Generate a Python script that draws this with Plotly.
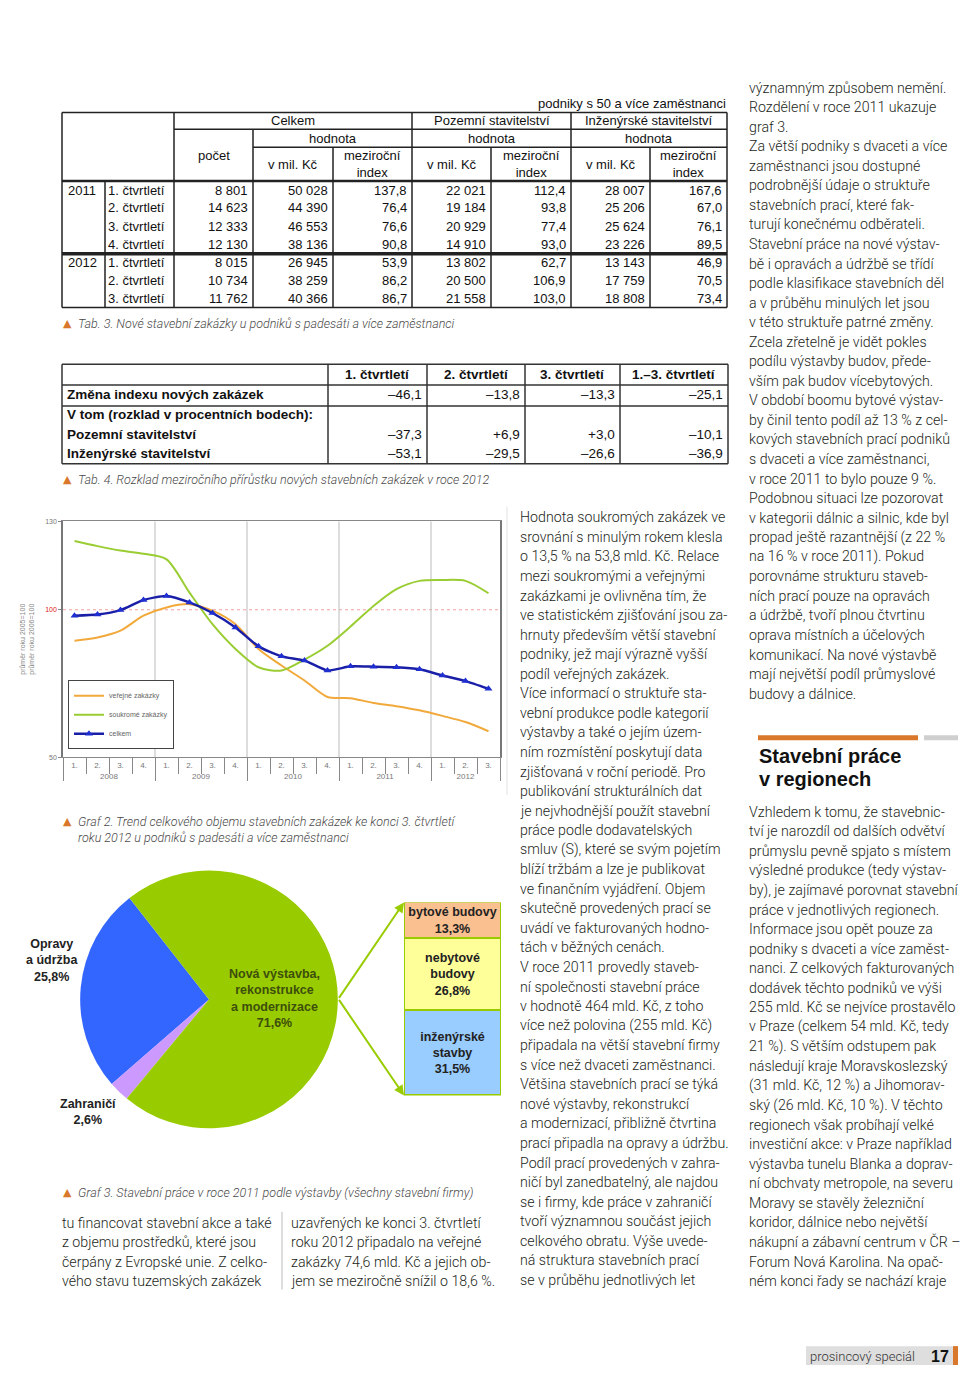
import plotly.graph_objects as go

W, H = 960, 1374
def X(px): return px / W
def Y(py): return 1 - py / H

BODY = "Roboto, Liberation Sans, sans-serif"
ARIAL = "Liberation Sans, Arial, sans-serif"
ORANGE = "#d9772b"
TXT = "#231f20"

# ---------------- data ----------------
# Tab. 3
t3_years = ["2011", "", "", "", "2012", "", ""]
t3_quarters = ["1. čtvrtletí", "2. čtvrtletí", "3. čtvrtletí", "4. čtvrtletí",
               "1. čtvrtletí", "2. čtvrtletí", "3. čtvrtletí"]
t3_pocet = [8801, 14623, 12333, 12130, 8015, 10734, 11762]
t3_celkem_mil = [50028, 44390, 46553, 38136, 26945, 38259, 40366]
t3_celkem_idx = [137.8, 76.4, 76.6, 90.8, 53.9, 86.2, 86.7]
t3_poz_mil = [22021, 19184, 20929, 14910, 13802, 20500, 21558]
t3_poz_idx = [112.4, 93.8, 77.4, 93.0, 62.7, 106.9, 103.0]
t3_inz_mil = [28007, 25206, 25624, 23226, 13143, 17759, 18808]
t3_inz_idx = [167.6, 67.0, 76.1, 89.5, 46.9, 70.5, 73.4]

# Tab. 4
t4_columns = ["1. čtvrtletí", "2. čtvrtletí", "3. čtvrtletí", "1.–3. čtvrtletí"]
t4_rows = ["Změna indexu nových zakázek", "V tom (rozklad v procentních bodech):",
           "Pozemní stavitelství", "Inženýrské stavitelství"]
t4_zmena = [-46.1, -13.8, -13.3, -25.1]
t4_pozemni = [-37.3, 6.9, 3.0, -10.1]
t4_inzenyrske = [-53.1, -29.5, -26.6, -36.9]

# Graf 2
g2_years = ["2008", "2009", "2010", "2011", "2012"]
g2_quarters = [["1.", "2.", "3.", "4."], ["1.", "2.", "3.", "4."], ["1.", "2.", "3.", "4."],
               ["1.", "2.", "3.", "4."], ["1.", "2.", "3."]]
g2_verejne = [89.5, 90.6, 92.9, 98.0, 100.8, 101.9, 99.7, 95.1, 86.7, 81.1, 76.0, 70.4,
              70.0, 68.4, 67.3, 65.9, 64.0, 61.9, 58.8]
g2_soukrome = [123.3, 121.6, 120.1, 119.0, 117.1, 105.8, 95.1, 86.7, 80.5, 79.4, 83.1, 87.8,
               94.3, 101.3, 107.0, 109.8, 110.1, 109.8, 105.6]
g2_celkem = [98.0, 98.4, 99.9, 103.3, 104.7, 102.5, 98.9, 94.0, 87.6, 84.2, 82.8, 79.4,
             80.8, 80.7, 80.5, 79.8, 77.7, 75.8, 73.2]
g2_yticks = [50, 100, 130]

# Graf 3
pie_labels = ["Opravy a údržba", "Zahraničí", "Nová výstavba, rekonstrukce a modernizace"]
pie_values = [25.8, 2.6, 71.6]
pie_colors = ["#3366ff", "#cc99ff", "#99cc00"]
nova_labels = ["bytové budovy", "nebytové<br>budovy", "inženýrské<br>stavby"]
nova_values = [13.3, 26.8, 31.5]
nova_colors = ["#fac090", "#ffff99", "#99ccff"]

# text columns
mid_col = [
    "Hodnota soukromých zakázek ve", "srovnání s minulým rokem klesla",
    "o 13,5 % na 53,8 mld. Kč. Relace", "mezi soukromými a veřejnými",
    "zakázkami je ovlivněna tím, že", "ve statistickém zjišťování jsou za-",
    "hrnuty především větší stavební", "podniky, jež mají výrazně vyšší",
    "podíl veřejných zakázek.", "Více informací o struktuře sta-",
    "vební produkce podle kategorií", "výstavby a také o jejím územ-",
    "ním rozmístění poskytují data", "zjišťovaná v roční periodě. Pro",
    "publikování strukturálních dat", "je nejvhodnější použít stavební",
    "práce podle dodavatelských", "smluv (S), které se svým pojetím",
    "blíží tržbám a lze je publikovat", "ve finančním vyjádření. Objem",
    "skutečně provedených prací se", "uvádí ve fakturovaných hodno-",
    "tách v běžných cenách.", "V roce 2011 provedly staveb-",
    "ní společnosti stavební práce", "v hodnotě 464 mld. Kč, z toho",
    "více než polovina (255 mld. Kč)", "připadala na větší stavební firmy",
    "s více než dvaceti zaměstnanci.", "Většina stavebních prací se týká",
    "nové výstavby, rekonstrukcí", "a modernizací, přibližně čtvrtina",
    "prací připadla na opravy a údržbu.", "Podíl prací provedených v zahra-",
    "ničí byl zanedbatelný, ale najdou", "se i firmy, kde práce v zahraničí",
    "tvoří významnou součást jejich", "celkového obratu. Výše uvede-",
    "ná struktura stavebních prací", "se v průběhu jednotlivých let",
]
right_col_top = [
    "významným způsobem nemění.", "Rozdělení v roce 2011 ukazuje", "graf 3.",
    "Za větší podniky s dvaceti a více", "zaměstnanci jsou dostupné",
    "podrobnější údaje o struktuře", "stavebních prací, které fak-",
    "turují konečnému odběrateli.", "Stavební práce na nové výstav-",
    "bě i opravách a údržbě se třídí", "podle klasifikace stavebních děl",
    "a v průběhu minulých let jsou", "v této struktuře patrné změny.",
    "Zcela zřetelně je vidět pokles", "podílu výstavby budov, přede-",
    "vším pak budov vícebytových.", "V období boomu bytové výstav-",
    "by činil tento podíl až 13 % z cel-", "kových stavebních prací podniků",
    "s dvaceti a více zaměstnanci,", "v roce 2011 to bylo pouze 9 %.",
    "Podobnou situaci lze pozorovat", "v kategorii dálnic a silnic, kde byl",
    "propad ještě razantnější (z 22 %", "na 16 % v roce 2011). Pokud",
    "porovnáme strukturu staveb-", "ních prací pouze na opravách",
    "a údržbě, tvoří plnou čtvrtinu", "oprava místních a účelových",
    "komunikací. Na nové výstavbě", "mají největší podíl průmyslové",
    "budovy a dálnice.",
]
right_col_bottom = [
    "Vzhledem k tomu, že stavebnic-", "tví je narozdíl od dalších odvětví",
    "průmyslu pevně spjato s místem", "výsledné produkce (tedy výstav-",
    "by), je zajímavé porovnat stavební", "práce v jednotlivých regionech.",
    "Informace jsou opět pouze za", "podniky s dvaceti a více zaměst-",
    "nanci. Z celkových fakturovaných", "dodávek těchto podniků ve výši",
    "255 mld. Kč se nejvíce prostavělo", "v Praze (celkem 54 mld. Kč, tedy",
    "21 %). S větším odstupem pak", "následují kraje Moravskoslezský",
    "(31 mld. Kč, 12 %) a Jihomorav-", "ský (26 mld. Kč, 10 %). V těchto",
    "regionech však probíhají velké", "investiční akce: v Praze například",
    "výstavba tunelu Blanka a doprav-", "ní obchvaty metropole, na severu",
    "Moravy se stavěly železniční", "koridor, dálnice nebo největší",
    "nákupní a zábavní centrum v ČR –", "Forum Nová Karolina. Na opač-",
    "ném konci řady se nachází kraje",
]
bottom_left_a = ["tu financovat stavební akce a také", "z objemu prostředků, které jsou",
                 "čerpány z Evropské unie. Z celko-", "vého stavu tuzemských zakázek"]
bottom_left_b = ["uzavřených ke konci 3. čtvrtletí", "roku 2012 připadalo na veřejné",
                 "zakázky 74,6 mld. Kč a jejich ob-", "jem se meziročně snížil o 18,6 %."]

# ---------------- helpers ----------------
annotations = []
shapes = []

def fint(v):
    return f"{v:,}".replace(",", " ")

def fdec(v):
    return f"{v:.1f}".replace(".", ",")

def fsigned(v):
    return ("+" if v > 0 else "–") + fdec(abs(v))

def text(px, py, s, size=14, color=TXT, family=BODY, xanchor="left", yanchor="middle",
         weight=None, italic=False, align="left"):
    font = dict(size=size, color=color, family=family)
    if weight is not None:
        font["weight"] = weight
    if italic:
        font["style"] = "italic"
    annotations.append(dict(x=X(px), y=Y(py), xref="paper", yref="paper", text=s,
                            showarrow=False, xanchor=xanchor, yanchor=yanchor,
                            font=font, align=align, borderpad=0))

def line(x0, y0, x1, y1, color="#222", width=1.5, dash=None):
    ln = dict(color=color, width=width)
    if dash:
        ln["dash"] = dash
    shapes.append(dict(type="line", xref="paper", yref="paper", x0=X(x0), y0=Y(y0),
                       x1=X(x1), y1=Y(y1), line=ln))

def rect(x0, y0, x1, y1, fill, lc=None, lw=0):
    shapes.append(dict(type="rect", xref="paper", yref="paper", x0=X(x0), y0=Y(y0),
                       x1=X(x1), y1=Y(y1), fillcolor=fill,
                       line=dict(color=lc or fill, width=lw), layer="below"))

def caption(py, lines_):
    text(62, py, "▲", size=11, color=ORANGE, family="DejaVu Sans")
    for i, s in enumerate(lines_):
        text(77, py + i * 16, s, size=12.5, color="#4a4a4a", italic=True, weight=300)

# ---------------- Tab. 3 ----------------
c = [62, 105, 174, 253, 333, 412, 491, 571, 650, 727]
top, r1, r2, hb, mid, bot = 109, 126, 144, 178, 251, 305
line(c[0], top, c[-1], top)
line(c[0], bot, c[-1], bot)
line(c[0], top, c[0], bot)
line(c[-1], top, c[-1], bot)
line(c[2], r1, c[-1], r1)
line(c[3], r2, c[-1], r2)
line(c[0], hb, c[-1], hb, width=2.5)
line(c[0], mid, c[-1], mid, width=3.5)
line(c[1], hb, c[1], bot)
for xx in (c[2], c[5], c[7]):
    line(xx, top, xx, bot)
line(c[3], r1, c[3], bot)
for xx in (c[4], c[6], c[8]):
    line(xx, r2, xx, bot)

TS = 13
text(c[-1], 100, "podniky s 50 a více zaměstnanci", size=TS, family=ARIAL, xanchor="right", color="#111")
text((c[2] + c[5]) / 2, 117.5, "Celkem", size=TS, family=ARIAL, xanchor="center", color="#111")
text((c[5] + c[7]) / 2, 117.5, "Pozemní stavitelství", size=TS, family=ARIAL, xanchor="center", color="#111")
text((c[7] + c[9]) / 2, 117.5, "Inženýrské stavitelství", size=TS, family=ARIAL, xanchor="center", color="#111")
text((c[2] + c[3]) / 2, 152, "počet", size=TS, family=ARIAL, xanchor="center", color="#111")
for a, b in ((c[3], c[5]), (c[5], c[7]), (c[7], c[9])):
    text((a + b) / 2, 135, "hodnota", size=TS, family=ARIAL, xanchor="center", color="#111")
for a, b in ((c[3], c[4]), (c[5], c[6]), (c[7], c[8])):
    text((a + b) / 2, 161, "v mil. Kč", size=TS, family=ARIAL, xanchor="center", color="#111")
for a, b in ((c[4], c[5]), (c[6], c[7]), (c[8], c[9])):
    text((a + b) / 2, 161, "meziroční<br>index", size=TS, family=ARIAL, xanchor="center",
         color="#111", align="center")

row_y = [187, 205, 223.5, 241.5, 260, 278, 296]
t3_cols = [(t3_pocet, fint), (t3_celkem_mil, fint), (t3_celkem_idx, fdec),
           (t3_poz_mil, fint), (t3_poz_idx, fdec), (t3_inz_mil, fint), (t3_inz_idx, fdec)]
for i, yy in enumerate(row_y):
    if t3_years[i]:
        text(67, yy, t3_years[i], size=TS, family=ARIAL, color="#111")
    text(c[1] + 2, yy, t3_quarters[i], size=TS, family=ARIAL, color="#111")
    for k, (vals, f) in enumerate(t3_cols):
        text(c[k + 3] - 4, yy, f(vals[i]), size=TS, family=ARIAL, xanchor="right", color="#111")

caption(321, ["Tab. 3. Nové stavební zakázky u podniků s padesáti a více zaměstnanci"])

# ---------------- Tab. 4 ----------------
c4 = [62, 328, 427, 525, 620, 728]
t4_top, t4_h, t4_z, t4_bot = 362, 383, 404, 462
for yy in (t4_top, t4_h, t4_z, t4_bot):
    line(c4[0], yy, c4[-1], yy, color="#333", width=1.5)
for xx in c4:
    line(xx, t4_top, xx, t4_bot, color="#333", width=1.5)
T4F = ARIAL
for j, lab in enumerate(t4_columns):
    text((c4[j + 1] + c4[j + 2]) / 2, 372.5, "<b>" + lab + "</b>", size=13.5, family=T4F,
         xanchor="center", color="#111")
t4_row_y = [393, 413, 433, 452]
t4_vals = [t4_zmena, None, t4_pozemni, t4_inzenyrske]
for i, lab in enumerate(t4_rows):
    text(66, t4_row_y[i], "<b>" + lab + "</b>", size=13.5, family=T4F, color="#111")
    if t4_vals[i] is not None:
        for j, v in enumerate(t4_vals[i]):
            text(c4[j + 2] - 4, t4_row_y[i], fsigned(v), size=13.5, family=T4F,
                 xanchor="right", color="#111")
caption(478, ["Tab. 4. Rozklad meziročního přírůstku nových stavebních zakázek v roce 2012"])

# ---------------- Graf 2 (line chart) ----------------
xcat = [[y for y, qs in zip(g2_years, g2_quarters) for _ in qs],
        [q for qs in g2_quarters for q in qs]]
n_pts = len(xcat[1])

fig = go.Figure()
fig.add_trace(go.Scatter(x=xcat, y=g2_verejne, name="veřejné zakázky", mode="lines",
                         line=dict(color="#f2a93b", width=2, shape="spline", smoothing=0.8),
                         hoverinfo="skip"))
fig.add_trace(go.Scatter(x=xcat, y=g2_soukrome, name="soukromé zakázky", mode="lines",
                         line=dict(color="#9acd32", width=2, shape="spline", smoothing=0.8),
                         hoverinfo="skip"))
fig.add_trace(go.Scatter(x=xcat, y=g2_celkem, name="celkem", mode="lines+markers",
                         line=dict(color="#1a1fa8", width=2.5, shape="spline", smoothing=0.6),
                         marker=dict(symbol="triangle-up", size=7, color="#1f2fd0"),
                         hoverinfo="skip"))

# year gridlines on an overlay numeric axis
counts = [len(q) for q in g2_quarters]
bounds = []
acc = 0
for cnt in counts[:-1]:
    acc += cnt
    bounds.append(acc - 0.5)
for b in bounds:
    shapes.append(dict(type="line", xref="x3", yref="y", x0=b, x1=b, y0=g2_yticks[0],
                       y1=g2_yticks[-1], line=dict(color="#bbbbbb", width=1), layer="below"))
shapes.append(dict(type="line", xref="x domain", yref="y", x0=0, x1=1, y0=100, y1=100,
                   line=dict(color="#f2a0a0", width=1, dash="dot"), layer="below"))
fig.add_trace(go.Scatter(x=[], y=[], xaxis="x3", yaxis="y", showlegend=False, hoverinfo="skip"))

# right frame of the chart picture
line(507, 505, 507, 795, color="#e2e2e2", width=1)

caption(822, ["Graf 2. Trend celkového objemu stavebních zakázek ke konci 3. čtvrtletí",
              "roku 2012 u podniků s padesáti a více zaměstnanci"])

# ---------------- Graf 3 (pie + stacked bar) ----------------
fig.add_trace(go.Pie(labels=pie_labels, values=pie_values, sort=False,
                     direction="counterclockwise", rotation=-131,
                     marker=dict(colors=pie_colors, line=dict(width=0)),
                     textinfo="none", hoverinfo="skip", showlegend=False,
                     domain=dict(x=[X(80), X(338)], y=[Y(1130), Y(871)])))

for lab, val, col in zip(nova_labels, nova_values, nova_colors):
    fig.add_trace(go.Bar(x=["nová"], y=[val], xaxis="x2", yaxis="y2", width=[1],
                         marker=dict(color=col, line=dict(color="#99cc00", width=2)),
                         text=["<b>" + lab + "<br>" + fdec(val) + "%</b>"],
                         textposition="inside", insidetextanchor="middle", textangle=0,
                         constraintext="none",
                         textfont=dict(size=12.5, family=ARIAL, color="#222"),
                         showlegend=False, hoverinfo="skip"))

pie_txt = [(52, 961, "<b>Opravy<br>a údržba<br>" + fdec(pie_values[0]) + "%</b>", "#222"),
           (88, 1114, "<b>Zahraničí<br>" + fdec(pie_values[1]) + "%</b>", "#222"),
           (274, 1000, "<b>Nová výstavba,<br>rekonstrukce<br>a modernizace<br>"
            + fdec(pie_values[2]) + "%</b>", "#3d4f0c")]
for px_, py_, s, col in pie_txt:
    text(px_, py_, s, size=12.5, family=ARIAL, xanchor="center", color=col, align="center")

for ty in (903, 1097):
    annotations.append(dict(x=X(404), y=Y(ty), xref="paper", yref="paper", text="",
                            showarrow=True, ax=338 - 404, ay=1000 - ty, axref="pixel",
                            ayref="pixel", arrowhead=2, arrowsize=1, arrowwidth=2,
                            arrowcolor="#99cc00"))

caption(1195, ["Graf 3. Stavební práce v roce 2011 podle výstavby (všechny stavební firmy)"])

# ---------------- text columns ----------------
LS = 19.65
BS = 14.2
for i, s in enumerate(mid_col):
    text(519, 516 + i * LS, s, size=BS, weight=300)
for i, s in enumerate(right_col_top):
    text(748, 84 + i * LS, s, size=BS, weight=300)
for i, s in enumerate(right_col_bottom):
    text(748, 812 + i * LS, s, size=BS, weight=300)
for i, s in enumerate(bottom_left_a):
    text(61, 1225 + i * LS, s, size=BS, weight=300)
for i, s in enumerate(bottom_left_b):
    text(290, 1225 + i * LS, s, size=BS, weight=300)
line(282, 1214, 282, 1292, color="#dddddd", width=2)

# heading
rect(758, 735, 918, 740, ORANGE)
rect(924, 735, 958, 740, "#cfcfcf")
text(758, 756, "<b>Stavební práce</b>", size=20, family=ARIAL, color="#111")
text(758, 779, "<b>v regionech</b>", size=20, family=ARIAL, color="#111")

# footer
rect(806, 1349, 953, 1368, "#dedede")
rect(953, 1349, 958, 1368, ORANGE)
text(809, 1359, "prosincový speciál", size=13, family=BODY, weight=300, color="#333")
text(950, 1359, "<b>17</b>", size=16, family=ARIAL, xanchor="right", color="#111")

# ---------------- layout ----------------
ytext = [("<span style='color:#e02020'>%d</span>" % v) if v == 100 else str(v) for v in g2_yticks]
fig.update_layout(
    width=W, height=H, margin=dict(l=0, r=0, t=0, b=0),
    paper_bgcolor="white", plot_bgcolor="white",
    barmode="stack", bargap=0,
    annotations=annotations, shapes=shapes,
    legend=dict(x=X(68), y=Y(749), xanchor="left", yanchor="bottom", bgcolor="white",
                bordercolor="#444", borderwidth=1, tracegroupgap=0, traceorder="normal",
                font=dict(size=7, color="#666", family=ARIAL)),
    xaxis=dict(type="multicategory", domain=[X(63), X(500)], anchor="y",
               range=[-0.5, n_pts - 0.5], showline=True, linecolor="#888", linewidth=1,
               mirror=True, ticks="outside", tickson="boundaries", ticklen=16,
               tickcolor="#888", showgrid=False, showdividers=True, dividercolor="#888",
               dividerwidth=1, tickfont=dict(size=8, color="#777", family=ARIAL)),
    xaxis3=dict(overlaying="x", anchor="y", range=[-0.5, n_pts - 0.5], visible=False,
                showgrid=False, zeroline=False),
    yaxis=dict(domain=[Y(757), Y(520)], anchor="x", range=[g2_yticks[0], g2_yticks[-1]],
               tickvals=g2_yticks, ticktext=ytext, showline=True, linecolor="#777",
               linewidth=1.5, mirror=True, ticks="outside", ticklen=3, tickcolor="#888",
               showgrid=False, zeroline=False,
               tickfont=dict(size=7, color="#777", family=ARIAL),
               title=dict(text="průměr roku 2005=100<br>průměr roku 2006=100",
                          font=dict(size=7, color="#888", family=ARIAL), standoff=10)),
    xaxis2=dict(domain=[X(404), X(501)], anchor="y2", visible=False, range=[-0.5, 0.5]),
    yaxis2=dict(domain=[Y(1097), Y(903)], anchor="x2", visible=False,
                range=[sum(nova_values), 0]),
)

fig.write_html("out.html", config={"displayModeBar": False},
               post_script="document.body.style.margin='0';document.body.style.overflow='hidden';")
